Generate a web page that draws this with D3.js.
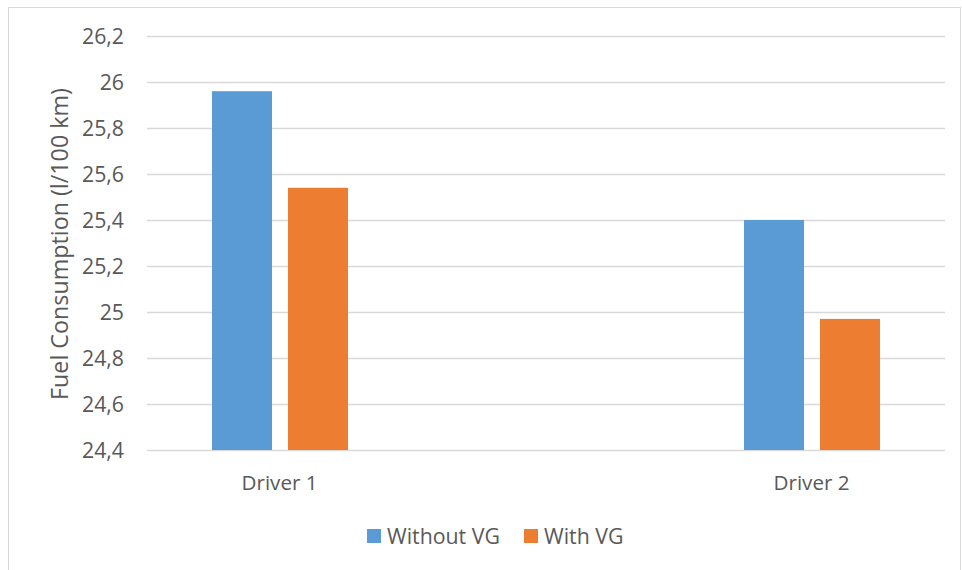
<!DOCTYPE html>
<html><head><meta charset="utf-8">
<script src="https://cdn.jsdelivr.net/npm/d3@7"></script>
<style>body{margin:0;background:#fff}svg{display:block}text{font-family:"Open Sans",sans-serif;fill:#595959}</style>
</head><body><svg width="962" height="570"></svg>
<script>
const categories = ["Driver 1", "Driver 2"];
const seriesNames = ["Without VG", "With VG"];
const withoutVG = [25.96, 25.40];
const withVG = [25.54, 24.97];
const yTicks = [24.4, 24.6, 24.8, 25, 25.2, 25.4, 25.6, 25.8, 26, 26.2];
const colors = ["#5B9BD5", "#ED7D31"];

(function () {
const svg = d3.select("svg");
svg.append("rect").attr("x", 8.5).attr("y", 7.5).attr("width", 952).attr("height", 580)
  .attr("fill", "none").attr("stroke", "#d9d9d9");

// font-size so that a sample string has a given width
function sizeFor(str, width) {
  const t = svg.append("text").style("font-size", "20px").text(str);
  const w = t.node().getComputedTextLength();
  t.remove();
  return 20 * width / w;
}
const tickSize = sizeFor("26,2", 42);
const catSize = sizeFor("Driver 1", 76);
const titleSize = sizeFor("Fuel Consumption (l/100 km)", 312);
const legSize = sizeFor("Without VG", 113);

const pLeft = 147, pRight = 945, pTop = 36, pBottom = 450;
const y = d3.scaleLinear().domain([24.4, 26.2]).range([pBottom, pTop]);
const x = d3.scalePoint().domain(categories).range([pLeft, pRight]).padding(0.25);
const xs = d3.scaleBand().domain(seriesNames).range([-68, 68]).paddingInner(0.2105).paddingOuter(0);

const fmt = d => String(d).replace(".", ",");
const yAxis = d3.axisLeft(y).tickValues(yTicks).tickSize(-(pRight - pLeft)).tickPadding(0).tickFormat(fmt);
const ga = svg.append("g").attr("transform", `translate(${pLeft},0)`).call(yAxis);
ga.select(".domain").remove();
ga.selectAll(".tick line").attr("stroke", "#d9d9d9").attr("stroke-width", 1.3);
ga.selectAll(".tick text").attr("x", -23).attr("dy", "0.36em").style("font-size", tickSize + "px").attr("fill", "#595959");

const data = categories.map((c, i) => ({c, vals: [withoutVG[i], withVG[i]]}));
const g = svg.append("g");
data.forEach(d => {
  d.vals.forEach((v, j) => {
    g.append("rect")
      .attr("x", x(d.c) + xs(seriesNames[j]))
      .attr("width", xs.bandwidth())
      .attr("y", y(v))
      .attr("height", y(24.4) - y(v))
      .attr("fill", colors[j]);
  });
});

const xAxis = d3.axisBottom(x).tickSize(0).tickPadding(0);
const gx = svg.append("g").attr("transform", `translate(-1,${pBottom})`).call(xAxis);
gx.select(".domain").remove();
gx.selectAll(".tick text").attr("y", 33).attr("dy", "0.36em").style("font-size", catSize + "px").attr("fill", "#595959");

svg.append("text").attr("transform", `translate(60,244) rotate(-90)`)
  .attr("text-anchor", "middle").attr("dy", "0.36em").style("font-size", titleSize + "px")
  .text("Fuel Consumption (l/100 km)");

const legendX = [367, 524];
seriesNames.forEach((s, i) => {
  svg.append("rect").attr("x", legendX[i]).attr("y", 529).attr("width", 14).attr("height", 14).attr("fill", colors[i]);
  svg.append("text").attr("x", legendX[i] + 20).attr("y", 536).attr("dy", "0.36em")
    .style("font-size", legSize + "px").text(s);
});
})();
</script></body></html>
